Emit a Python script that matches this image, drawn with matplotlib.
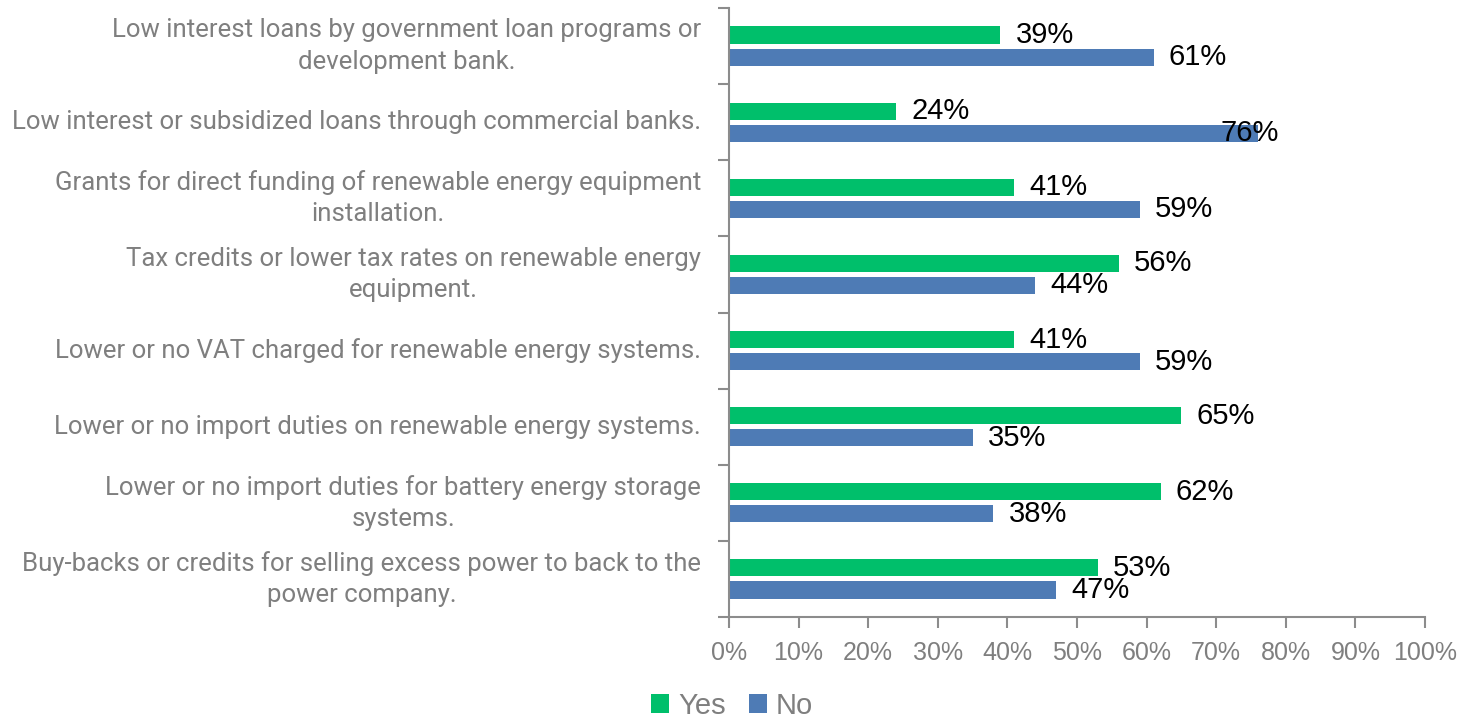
import numpy as np
import matplotlib
matplotlib.use("Agg")
import matplotlib.pyplot as plt
from matplotlib.ticker import PercentFormatter, FixedLocator

# survey answers, top to bottom
categories = [
    "Low interest loans by government loan programs or\ndevelopment bank.",
    "Low interest or subsidized loans through commercial banks.",
    "Grants for direct funding of renewable energy equipment\ninstallation.",
    "Tax credits or lower tax rates on renewable energy\nequipment.",
    "Lower or no VAT charged for renewable energy systems.",
    "Lower or no import duties on renewable energy systems.",
    "Lower or no import duties for battery energy storage\nsystems.",
    "Buy-backs or credits for selling excess power to back to the\npower company.",
]
yes_pct = [39, 24, 41, 56, 41, 65, 62, 53]
no_pct = [61, 76, 59, 44, 59, 35, 38, 47]

GREEN = "#00BF6B"
BLUE = "#4E7BB5"
GRAY = "#7F7F7F"
AXIS = "#8C8C8C"

fig = plt.figure(figsize=(14.64, 7.21), dpi=100)
ax = fig.add_axes([729 / 1464, 1 - 617 / 721, 696 / 1464, 609 / 721])

y = np.arange(len(categories))
h = 0.225
off = 0.145
ax.barh(y - off, yes_pct, height=h, color=GREEN, label="Yes")
ax.barh(y + off, no_pct, height=h, color=BLUE, label="No")

# value labels just past each bar end
for i, v in enumerate(yes_pct):
    ax.annotate(f"{v}%", (v, i - off), xytext=(11, 0), textcoords="offset points",
                va="center", ha="left", fontsize=21, family="Liberation Sans", color="black")
for i, v in enumerate(no_pct):
    dx = -27 if v == 76 else 11
    ax.annotate(f"{v}%", (v, i + off), xytext=(dx, 0), textcoords="offset points",
                va="center", ha="left", fontsize=21, family="Liberation Sans", color="black")

ax.set_xlim(0, 100)
ax.set_ylim(len(categories) - 0.5, -0.5)
ax.xaxis.set_major_locator(FixedLocator(np.arange(0, 101, 10)))
ax.xaxis.set_major_formatter(PercentFormatter(decimals=0))

# category boundaries get the tick marks, names sit at the centres
ax.yaxis.set_major_locator(FixedLocator(np.arange(-0.5, len(categories), 1)))
ax.set_yticklabels([])
ax.set_yticks(y, minor=True)
ax.set_yticklabels(categories, minor=True, fontsize=18.5, color=GRAY,
                   family="Roboto", linespacing=1.38, multialignment="center")
for lab in ax.get_yticklabels(minor=True):
    lab.set_verticalalignment("center")
ax.tick_params(axis="y", which="minor", length=0, pad=20)
ax.tick_params(axis="y", which="major", length=8, width=1.5, color=AXIS, direction="out")
ax.tick_params(axis="x", which="major", length=8, width=1.5, color=AXIS,
               labelsize=18, labelcolor=GRAY, pad=9)
for lab in ax.get_xticklabels():
    lab.set_family("Liberation Sans")

for s in ["top", "right"]:
    ax.spines[s].set_visible(False)
for s in ["left", "bottom"]:
    ax.spines[s].set_color(AXIS)
    ax.spines[s].set_linewidth(1.5)

fig.legend(loc="center", bbox_to_anchor=(0.5, 1 - 706 / 721), ncol=2, frameon=False,
           prop={"family": "Liberation Sans", "size": 21}, labelcolor=GRAY,
           handlelength=0.62, handleheight=0.62, handletextpad=0.3, columnspacing=0.8,
           borderpad=0.1)

fig.savefig("out.png", dpi=100)
